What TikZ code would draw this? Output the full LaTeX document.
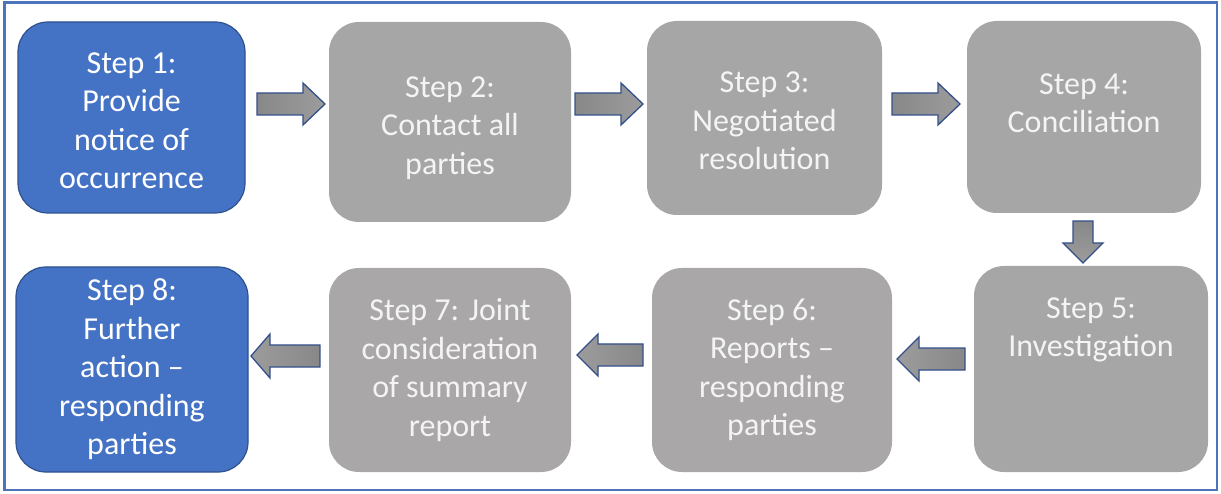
\documentclass[tikz,border=0pt]{standalone}
\usepackage{fontspec}
\setmainfont{Carlito}
\definecolor{bluefill}{HTML}{4472C4}
\definecolor{blueedge}{HTML}{2F528F}
\definecolor{grayfill}{HTML}{A6A6A6}
\definecolor{grayfillb}{HTML}{A9A7A7}
\definecolor{graytext}{HTML}{F4F4F4}
\definecolor{frameblue}{HTML}{4D74BA}
\definecolor{arrowedge}{HTML}{34508A}
\definecolor{arrdark}{HTML}{888888}
\definecolor{arrlight}{HTML}{C6C6C6}
\definecolor{arrmid}{HTML}{9C9C9C}
\newcommand\TopPad[1]{\rule{0pt}{#1}}
\newcommand\BotPad[1]{\rule[-#1]{0pt}{1pt}}
\begin{document}
\begin{tikzpicture}[x=1pt,y=-1pt,
  box/.style={rectangle, rounded corners=30pt, inner sep=0pt, align=center,
    font=\fontsize{32}{38.5}\selectfont},
  bluebox/.style={box, fill=bluefill, draw=blueedge, line width=1.2pt, text=white},
  graybox/.style={box, fill=grayfill, text=graytext},
  grayboxb/.style={box, fill=grayfillb, text=graytext},
  blockarrow/.style={draw=arrowedge, line width=1.3pt, line join=miter},
  rightarr/.style={blockarrow, left color=arrdark, middle color=arrlight, right color=arrmid},
  leftarr/.style={blockarrow, left color=arrmid, middle color=arrlight, right color=arrdark},
  downarr/.style={blockarrow, top color=arrdark, middle color=arrlight, bottom color=arrmid}
]
\useasboundingbox (0,0) rectangle (1221,494);
\draw[frameblue, line width=2.5pt] (4.5,2.5) rectangle (1217,490);

% boxes
\node[bluebox, minimum width=227pt, minimum height=191pt] (s1) at (131.5,117.5)
  {\TopPad{27pt}Step 1:\\Provide\\notice of\\occurrence};
\node[graybox, minimum width=242pt, minimum height=200pt] (s2) at (450,122)
  {\TopPad{33pt}Step 2:\\Contact all\\parties};
\node[graybox, minimum width=235pt, minimum height=194pt] (s3) at (764.5,118)
  {\TopPad{27pt}Step 3:\\Negotiated\\resolution};
\node[graybox, minimum width=234pt, minimum height=192pt] (s4) at (1084,117)
  {Step 4:\\Conciliation\BotPad{28pt}};
\node[graybox, minimum width=234pt, minimum height=206pt] (s5) at (1091,369)
  {Step 5:\\Investigation\BotPad{84pt}};
\node[grayboxb, minimum width=240pt, minimum height=204pt] (s6) at (772,370)
  {Step 6:\\Reports –\\responding\\parties};
\node[grayboxb, minimum width=242pt, minimum height=204pt] (s7) at (450,370)
  {Step 7: Joint\\consideration\\of summary\\report};
\node[bluebox, minimum width=232pt, minimum height=205pt] (s8) at (132,369.5)
  {Step 8:\\Further\\action –\\responding\\parties};

% block arrows
\path[rightarr] (257,93)--(303,93)--(303,83)--(325,104)--(303,125)--(303,115)--(257,115)--cycle;
\path[rightarr] (575,93)--(621,93)--(621,83)--(643,104)--(621,125)--(621,115)--(575,115)--cycle;
\path[rightarr] (892,93)--(938,93)--(938,83)--(960,104)--(938,125)--(938,115)--(892,115)--cycle;
\path[downarr] (1073,221)--(1093,221)--(1093,243)--(1103,243)--(1083,263)--(1063,243)--(1073,243)--cycle;
\path[leftarr] (965,348)--(919,348)--(919,337)--(897,359)--(919,381)--(919,370)--(965,370)--cycle;
\path[leftarr] (643,344)--(598,344)--(598,334)--(577,355)--(598,376)--(598,366)--(643,366)--cycle;
\path[leftarr] (320,345)--(270,345)--(270,334)--(251,356)--(270,378)--(270,367)--(320,367)--cycle;
\end{tikzpicture}
\end{document}
